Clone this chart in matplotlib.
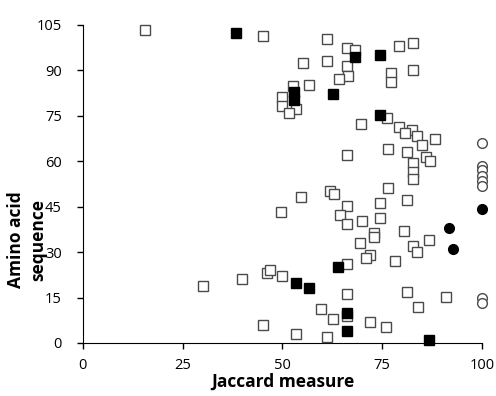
import matplotlib
matplotlib.use('Agg')

import matplotlib.pyplot as plt

plt.rcParams['font.family'] = ['Open Sans', 'DejaVu Sans']

# open squares
open_sq_x = [15.5, 45.1, 61.1, 66.1, 68.2, 79.3, 82.6, 55.2, 61.1, 66.1,
             66.3, 64.2, 77.2, 77.2, 82.6, 56.7, 52.7, 49.8, 49.8, 53.5,
             51.7, 76.3, 69.6, 79.2, 82.4, 80.7, 83.6, 88.1, 85.0, 66.1,
             76.4, 81.1, 86.0, 87.0, 82.6, 82.6, 82.6, 76.4, 62.0, 62.8,
             54.6, 81.1, 74.4, 66.1, 49.7, 64.3, 66.2, 69.9, 74.4, 80.5,
             86.8, 73.0, 72.8, 69.4, 82.8, 83.8, 71.8, 70.9, 78.2, 66.1,
             49.8, 46.0, 47.0, 39.9, 30.0, 66.1, 81.1, 91.0, 83.9, 59.6,
             62.7, 66.1, 72.0, 75.9, 45.1, 53.5, 61.1]
open_sq_y = [103.3, 101.3, 100.2, 97.4, 96.6, 98.2, 99.2, 92.3, 93.2, 91.5,
             88.3, 87.3, 89.2, 86.3, 90.2, 85.2, 84.7, 81.1, 78.2, 77.4,
             76.0, 74.2, 72.3, 71.3, 70.2, 69.2, 68.3, 67.2, 65.3, 62.1,
             64.0, 63.1, 61.5, 60.2, 59.3, 56.5, 54.2, 51.2, 50.3, 49.2,
             48.2, 47.3, 46.2, 45.2, 43.2, 42.2, 39.3, 40.1, 41.1, 37.1,
             34.0, 36.2, 34.9, 33.1, 32.0, 30.1, 29.0, 27.9, 27.2, 26.0,
             22.1, 23.1, 24.0, 21.0, 18.9, 16.1, 16.9, 15.1, 12.0, 11.1,
             8.0, 8.8, 7.0, 5.1, 6.0, 3.1, 2.1]

# filled squares
fill_sq_x = [38.3, 68.2, 74.4, 62.7, 52.9, 52.9, 74.4, 63.8, 53.4, 56.7,
             66.1, 66.1, 86.8]
fill_sq_y = [102.2, 94.3, 95.2, 82.2, 83.0, 80.2, 75.2, 25.0, 19.9, 18.0,
             10.0, 4.0, 1.0]

# open circles
open_ci_x = [100, 100, 100, 100, 100, 100, 100, 100]
open_ci_y = [66.0, 58.5, 57.0, 55.2, 53.5, 51.8, 14.7, 13.2]

# filled circles
fill_ci_x = [100, 91.6, 92.8]
fill_ci_y = [44.2, 37.8, 30.9]

fig = plt.figure(figsize=(4.96, 3.96), dpi=100)
ax = fig.add_axes([0.167, 0.134, 0.805, 0.803])

ms = 6.5
ax.plot(open_sq_x, open_sq_y, 's', ms=ms, mfc='white', mec='#4a4a4a', mew=1.0,
        clip_on=False, zorder=3)
ax.plot(fill_sq_x, fill_sq_y, 's', ms=ms, mfc='black', mec='black', mew=1.0,
        clip_on=False, zorder=4)
ax.plot(open_ci_x, open_ci_y, 'o', ms=ms + 0.5, mfc='white', mec='#4a4a4a', mew=1.0,
        clip_on=False, zorder=3)
ax.plot(fill_ci_x, fill_ci_y, 'o', ms=ms + 0.5, mfc='black', mec='black', mew=1.0,
        clip_on=False, zorder=4)

ax.set_xlim(0, 100)
ax.set_ylim(0, 105)
ax.set_xticks([0, 25, 50, 75, 100])
ax.set_yticks([0, 15, 30, 45, 60, 75, 90, 105])

ax.spines['top'].set_visible(False)
ax.spines['right'].set_visible(False)
ax.tick_params(axis='both', direction='out', length=4, width=1, labelsize=10.5)
ax.tick_params(axis='x', pad=7)
ax.tick_params(axis='y', pad=11)

ax.set_xlabel('Jaccard measure', fontsize=12.5, fontweight='bold', labelpad=0)
ax.set_ylabel('Amino acid\nsequence', fontsize=12.5, fontweight='bold',
              multialignment='center', linespacing=1.3)
ax.yaxis.set_label_coords(-0.088, 0.325)

fig.savefig('out.png', dpi=100)
